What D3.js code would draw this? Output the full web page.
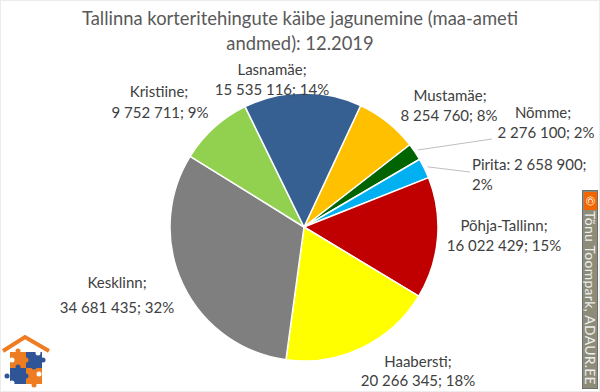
<!DOCTYPE html>
<html>
<head>
<meta charset="utf-8">
<script src="https://cdn.jsdelivr.net/npm/d3@7"></script>
<style>
  html, body { margin: 0; padding: 0; background: #fff; }
  svg { display: block; }
  text { font-family: Lato, "Open Sans", sans-serif; }
</style>
</head>
<body>
<svg id="chart" width="600" height="392"></svg>
<script>
const titleLines = ['Tallinna korteritehingute käibe jagunemine (maa-ameti', 'andmed): 12.2019'];
const districts = ['Mustamäe', 'Nõmme', 'Pirita', 'Põhja-Tallinn', 'Haabersti', 'Kesklinn', 'Kristiine', 'Lasnamäe'];
const turnover = [8254760, 2276100, 2658900, 16022429, 20266345, 34681435, 9752711, 15535116];
const shares = [8, 2, 2, 15, 18, 32, 9, 14];
const colors = ['#ffc000', '#006400', '#00b0f0', '#c00000', '#ffff00', '#7f7f7f', '#92d050', '#366092'];

const width = 600, height = 392;
const cx = 304, cy = 227, radius = 134;

const fmt = d3.formatLocale({decimal: ',', thousands: ' ', grouping: [3], currency: ['', '']}).format(',');

const svg = d3.select('#chart');

// faint frame round the picture
svg.append('rect')
    .attr('x', 0.5).attr('y', 0.5)
    .attr('width', width - 1).attr('height', height - 1)
    .attr('fill', '#fff')
    .attr('stroke', '#ececec');

svg.append('g')
    .selectAll('text')
    .data(titleLines)
    .enter()
    .append('text')
    .attr('x', 300)
    .attr('y', (d, i) => 25 + i * 25)
    .attr('text-anchor', 'middle')
    .attr('font-size', 18.4)
    .attr('fill', '#595959')
    .text(d => d);

const pie = d3.pie()
    .value(d => d)
    .sort(null)
    .startAngle(25 * Math.PI / 180)
    .endAngle(385 * Math.PI / 180);

const slices = pie(turnover);
const arc = d3.arc().innerRadius(0).outerRadius(radius);

const g = svg.append('g').attr('transform', `translate(${cx},${cy})`);

g.selectAll('path')
    .data(slices)
    .enter()
    .append('path')
    .attr('d', arc)
    .attr('fill', (d, i) => colors[i])
    .attr('stroke', '#fff')
    .attr('stroke-width', 1.5);

// hand placed data labels, as in the spreadsheet: [x, y, anchor] per text line
const labelText = districts.map((name, i) => {
    const val = `${fmt(turnover[i])}; ${shares[i]}%`;
    if (name === 'Pirita') return [`${name}: ${fmt(turnover[i])};`, `${shares[i]}%`];
    return [`${name};`, val];
});
const labelPlace = [
    [[450, 101, 'middle'], [449, 121, 'middle']],
    [[543, 118, 'middle'], [546, 138, 'middle']],
    [[472, 170, 'start'], [472, 190, 'start']],
    [[504, 231, 'middle'], [504, 251, 'middle']],
    [[418, 367, 'middle'], [418, 386, 'middle']],
    [[117, 288, 'middle'], [117, 313, 'middle']],
    [[159, 97, 'middle'], [160, 118, 'middle']],
    [[272, 75, 'middle'], [272, 95, 'middle']]
];

// leader lines for the two thin slices
const leaders = [[1, 492, 139], [2, 470, 172]];
svg.append('g')
    .selectAll('line')
    .data(leaders)
    .enter()
    .append('line')
    .attr('x1', d => cx + arc.centroid(slices[d[0]])[0] * 2.05)
    .attr('y1', d => cy + arc.centroid(slices[d[0]])[1] * 2.05)
    .attr('x2', d => d[1])
    .attr('y2', d => d[2])
    .attr('stroke', '#bfbfbf')
    .attr('stroke-width', 1);

const labels = svg.append('g');
labelText.forEach((lines, i) => {
    lines.forEach((line, j) => {
        const p = labelPlace[i][j];
        labels.append('text')
            .attr('x', p[0])
            .attr('y', p[1])
            .attr('text-anchor', p[2])
            .attr('font-size', 15)
            .attr('fill', '#404040')
            .text(line);
    });
});

// copyright strip on the right edge
const strip = svg.append('g');
strip.append('rect')
    .attr('x', 582.5).attr('y', 190.5)
    .attr('width', 15).attr('height', 198)
    .attr('fill', '#8c8c78')
    .attr('stroke', '#6e6e6e');
strip.append('rect')
    .attr('x', 584).attr('y', 192)
    .attr('width', 13).attr('height', 18)
    .attr('fill', '#f26500');
strip.append('text')
    .attr('transform', 'translate(586,201) rotate(90)')
    .attr('text-anchor', 'middle')
    .attr('font-size', 12)
    .attr('fill', '#fff')
    .text('©');
strip.append('text')
    .attr('transform', 'translate(585,211) rotate(90)')
    .attr('font-size', 14)
    .attr('letter-spacing', 0.25)
    .attr('fill', '#eeeeee')
    .text('Tõnu Toompark, ADAUR.EE');

// house + puzzle logo, bottom left
const logo = svg.append('g').attr('transform', 'translate(0,320)');
logo.append('path')
    .attr('d', 'M3,31 L25,17 L49,31')
    .attr('fill', 'none')
    .attr('stroke', '#ee7d22')
    .attr('stroke-width', 4);
const pieces = [
    [10, 32, '#ee7d22'],
    [26, 32, '#2f5597'],
    [10, 48, '#2f5597'],
    [26, 48, '#ee7d22']
];
logo.selectAll('rect')
    .data(pieces)
    .enter()
    .append('rect')
    .attr('x', d => d[0])
    .attr('y', d => d[1])
    .attr('width', 16)
    .attr('height', 16)
    .attr('fill', d => d[2]);
// puzzle knobs and notches: x, y, colour
const knobs = [
    [18, 31, '#ee7d22'], [43, 40, '#2f5597'], [7, 56, '#2f5597'], [34, 65, '#ee7d22'],
    [26, 40, '#ee7d22'], [18, 47, '#2f5597'], [26, 56, '#2f5597'], [34, 47, '#2f5597'],
    [12, 40, '#fff'], [38, 33, '#fff'], [39, 54, '#fff'], [12, 63, '#fff']
];
logo.append('g')
    .selectAll('circle')
    .data(knobs)
    .enter()
    .append('circle')
    .attr('cx', d => d[0])
    .attr('cy', d => d[1])
    .attr('r', 2.5)
    .attr('fill', d => d[2]);
</script>
</body>
</html>
